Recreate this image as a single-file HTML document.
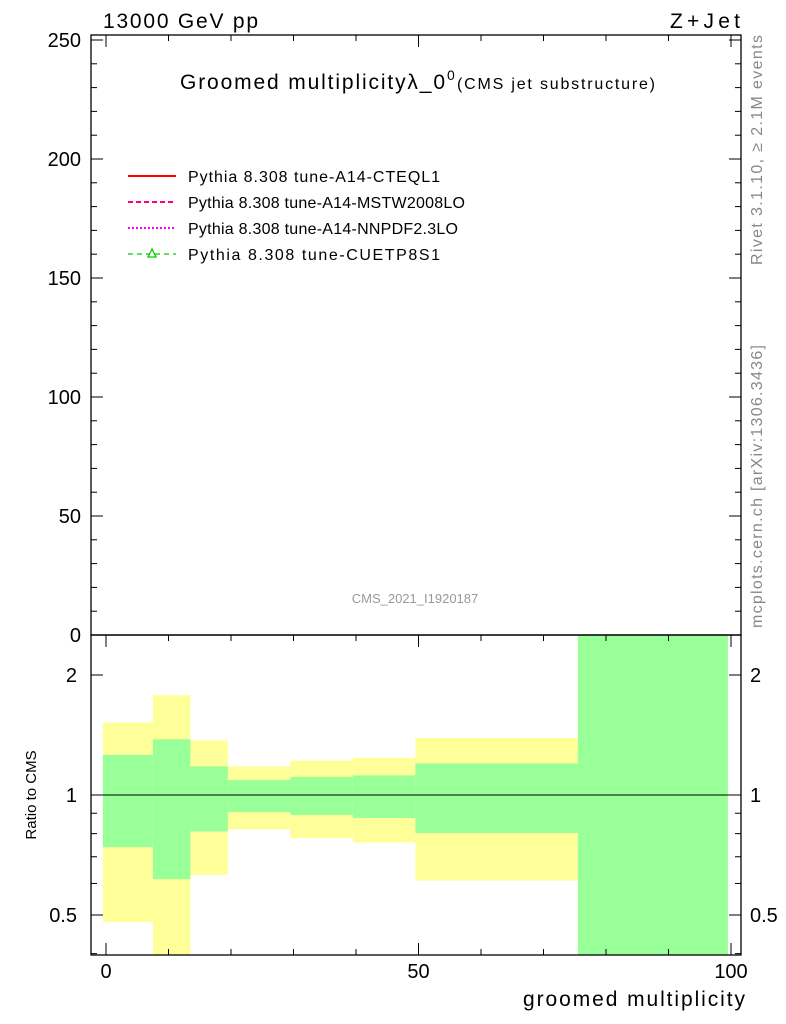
<!DOCTYPE html>
<html><head><meta charset="utf-8"><style>
body{margin:0;background:#fff;width:786px;height:1024px;overflow:hidden}
svg{display:block;font-family:"Liberation Sans",sans-serif}
</style></head><body>
<svg id="c" width="786" height="1024" xmlns="http://www.w3.org/2000/svg">
<text x="103" y="28" font-size="21" textLength="155">13000 GeV pp</text>
<text x="670" y="28" font-size="21" textLength="70">Z+Jet</text>
<text x="180" y="89" font-size="21" textLength="265">Groomed multiplicityλ_0</text>
<text x="447" y="80" font-size="14">0</text>
<text x="457" y="89" font-size="16" textLength="198">(CMS jet substructure)</text>
<text x="415" y="603" font-size="13" fill="#999" text-anchor="middle">CMS_2021_I1920187</text>
<text transform="translate(762,265) rotate(-90)" font-size="16" textLength="230" fill="#888">Rivet 3.1.10, ≥ 2.1M events</text>
<text transform="translate(762,628) rotate(-90)" font-size="16" textLength="283" fill="#888">mcplots.cern.ch [arXiv:1306.3436]</text>
<text transform="translate(36,795) rotate(-90)" font-size="15" text-anchor="middle">Ratio to CMS</text>
<text x="523" y="1006" font-size="21" textLength="222">groomed multiplicity</text>
<g>
<line x1="128" y1="176" x2="176" y2="176" stroke="#f00" stroke-width="2"/>
<text x="188" y="182" font-size="16" textLength="252">Pythia 8.308 tune-A14-CTEQL1</text>
<line x1="128" y1="202" x2="176" y2="202" stroke="#f07" stroke-width="2" stroke-dasharray="5,3"/>
<text x="188" y="208" font-size="16" textLength="277">Pythia 8.308 tune-A14-MSTW2008LO</text>
<line x1="128" y1="228" x2="176" y2="228" stroke="#f0f" stroke-width="2" stroke-dasharray="2,2"/>
<text x="188" y="234" font-size="16" textLength="270">Pythia 8.308 tune-A14-NNPDF2.3LO</text>
<line x1="128" y1="254" x2="176" y2="254" stroke="#0c0" stroke-width="1.3" stroke-dasharray="5,4"/>
<polygon points="152,249 148,257 156,257" fill="#fff" stroke="#0c0" stroke-width="1.3"/>
<text x="188" y="260" font-size="16" textLength="252">Pythia 8.308 tune-CUETP8S1</text>
</g>
<g id="g"></g>
</svg>
<script>
const edges=[-0.5,7.5,13.5,19.5,29.5,39.5,49.5,75.5,99.5];
const yellowHi=[1.52,1.78,1.37,1.18,1.22,1.24,1.39,3];
const yellowLo=[0.48,0.3,0.63,0.82,0.78,0.76,0.61,0.3];
const greenHi=[1.26,1.38,1.18,1.09,1.11,1.12,1.2,3];
const greenLo=[0.74,0.615,0.81,0.906,0.891,0.876,0.803,0.3];
const mainTicks=[0,50,100,150,200,250];
const ratioTicks=[0.5,1,2];
const xTicks=[0,50,100];
const L=91,R=741,T=35,M=635,B=955;
const X=v=>106+v*6.25;
const Y=v=>635-v*2.38;
const RY=v=>{const y=795-Math.log10(v)*398.6;return Math.max(M,Math.min(B,y));};
const g=document.getElementById('g');const NS='http://www.w3.org/2000/svg';
function el(t,a,name){const e=document.createElementNS(NS,t);for(const k in a)e.setAttribute(k,a[k]);


g.appendChild(e);return e;}
for(let i=0;i<yellowHi.length;i++){
 el('rect',{x:X(edges[i]),y:RY(yellowHi[i]),width:X(edges[i+1])-X(edges[i]),height:RY(yellowLo[i])-RY(yellowHi[i]),fill:'#ffff99'},'total-band-bin');
}
for(let i=0;i<greenHi.length;i++){
 el('rect',{x:X(edges[i]),y:RY(greenHi[i]),width:X(edges[i+1])-X(edges[i]),height:RY(greenLo[i])-RY(greenHi[i]),fill:'#99ff99'},'stat-band-bin');
}
el('line',{x1:L,x2:R,y1:RY(1),y2:RY(1),stroke:'#000'},'unity-line');
el('rect',{x:L,y:T,width:R-L,height:M-T,fill:'none',stroke:'#000','stroke-width':1.3},'main-frame');
el('rect',{x:L,y:M,width:R-L,height:B-M,fill:'none',stroke:'#000','stroke-width':1.3},'ratio-frame');
for(let v=0;v<=250;v+=10){const y=Y(v),len=v%50?6:12;
 el('line',{x1:L,x2:L+len,y1:y,y2:y,stroke:'#000'},'main-y-tick');
 el('line',{x1:R,x2:R-len,y1:y,y2:y,stroke:'#000'},'main-y-tick');}
mainTicks.forEach(v=>{const t=el('text',{x:81,y:Y(v)+7,'font-size':20,'text-anchor':'end'},'main-y-tick-label');t.textContent=v;});
[0.4,0.5,0.6,0.7,0.8,0.9,1,2].forEach(v=>{const y=RY(v),len=ratioTicks.includes(v)?12:6;
 el('line',{x1:L,x2:L+len,y1:y,y2:y,stroke:'#000'},'ratio-y-tick');
 el('line',{x1:R,x2:R-len,y1:y,y2:y,stroke:'#000'},'ratio-y-tick');});
ratioTicks.forEach(v=>{const y=RY(v)+7;
 let t=el('text',{x:77,y:y,'font-size':20,'text-anchor':'end'},'ratio-y-tick-label');t.textContent=v;
 t=el('text',{x:750,y:y,'font-size':20},'ratio-y-tick-label-right');t.textContent=v;});
for(let v=0;v<=100;v+=10){const x=X(v),len=v%50?6:12;
 el('line',{x1:x,x2:x,y1:B,y2:B-len,stroke:'#000'},'x-tick');
 el('line',{x1:x,x2:x,y1:M,y2:M+len,stroke:'#000'},'x-tick');
 el('line',{x1:x,x2:x,y1:T,y2:T+len,stroke:'#000'},'x-tick');}
xTicks.forEach(v=>{const t=el('text',{x:X(v),y:978,'font-size':20,'text-anchor':'middle'},'x-tick-label');t.textContent=v;});
</script>
</body></html>
